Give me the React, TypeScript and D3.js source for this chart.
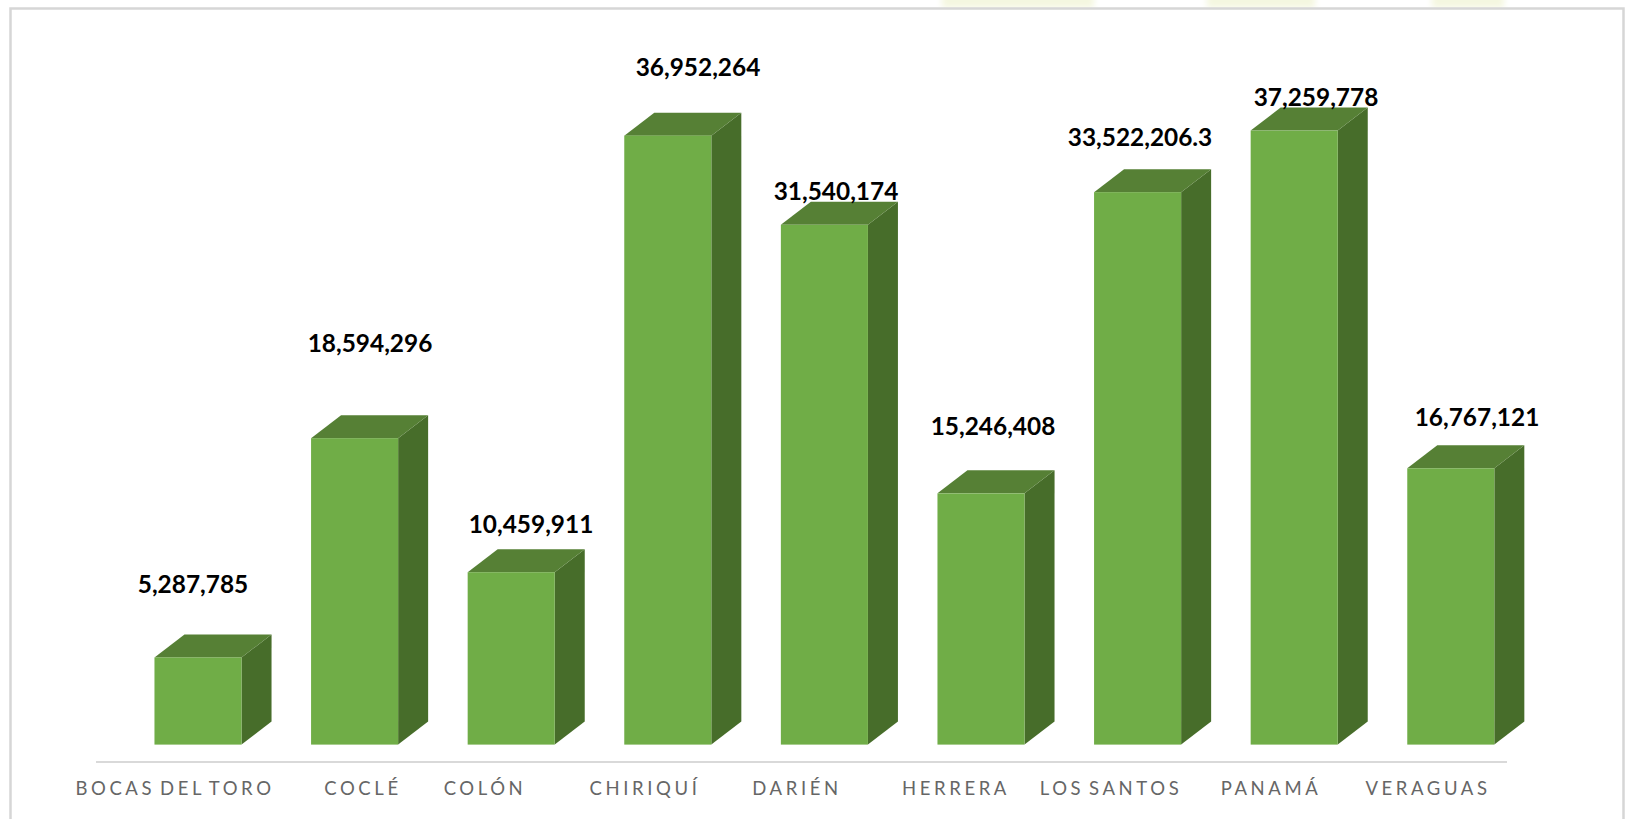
import React from "react";
import * as d3 from "d3";

const categories = ["BOCAS DEL TORO", "COCLÉ", "COLÓN", "CHIRIQUÍ", "DARIÉN", "HERRERA", "LOS SANTOS", "PANAMÁ", "VERAGUAS"];
const values = [5287785, 18594296, 10459911, 36952264, 31540174, 15246408, 33522206.3, 37259778, 16767121];
const valueLabels = ["5,287,785", "18,594,296", "10,459,911", "36,952,264", "31,540,174", "15,246,408", "33,522,206.3", "37,259,778", "16,767,121"];

// Hand-placed label anchors of the original chart (layout, not data)
const valueLabelX = [193, 370, 531, 698, 836, 993, 1140, 1316, 1477];
const valueLabelY = [585, 344, 525, 68, 192, 427, 138, 98, 418];
const categoryLabelX = [175, 363, 485, 645, 797, 956, 1111, 1271, 1428];

const W = 1626, H = 819;
const x = d3.scaleBand<string>().domain(categories).range([119.7, 1529.1]).paddingInner(0.444).paddingOuter(0.222);
const y = d3.scaleLinear().domain([0, 40000000]).range([744.6, 85.4]);
const dx = 30, dy = 23;

const poly = d3.line<[number, number]>().curve(d3.curveLinearClosed);

export default function App() {
  const bw = x.bandwidth();
  return (
    <svg width={W} height={H} style={{ position: "fixed", left: 0, top: 0, background: "#fff" }}>
      <defs>
        <filter id="blur"><feGaussianBlur stdDeviation="3" /></filter>
      </defs>
      <g fill="#f4f7e0" filter="url(#blur)">
        <rect x={942} y={-8} width={152} height={16} />
        <rect x={1207} y={-8} width={108} height={16} />
        <rect x={1432} y={-8} width={72} height={16} />
      </g>
      <path d={`M10.5 ${H} V8.5 H1623.5 V${H}`} fill="none" stroke="#d6d6d6" strokeWidth={2.5} />
      <line x1={96} x2={1507} y1={762} y2={762} stroke="#d9d9d9" strokeWidth={2} />
      {categories.map((c, i) => {
        const x0 = x(c)!, x1 = x0 + bw, yt = y(values[i]), yb = y(0);
        return (
          <g key={c}>
            <path d={poly([[x1, yt], [x1 + dx, yt - dy], [x1 + dx, yb - dy], [x1, yb]])!} fill="#476d2a" />
            <path d={poly([[x0, yt], [x0 + dx, yt - dy], [x1 + dx, yt - dy], [x1, yt]])!} fill="#568035" />
            <rect x={x0} y={yt} width={bw} height={yb - yt} fill="#70ad47" />
          </g>
        );
      })}
      {categories.map((c, i) => (
        <text key={c} x={categoryLabelX[i]} y={795} textAnchor="middle" fontFamily="Lato" fontSize={18.5} letterSpacing={3.6} wordSpacing={-3.5} fill="#666">{c}</text>
      ))}
      {valueLabels.map((t, i) => (
        <text key={t} x={valueLabelX[i]} y={valueLabelY[i] + 8} textAnchor="middle" fontFamily="Lato" fontWeight={700} fontSize={24.4} fill="#000">{t}</text>
      ))}
    </svg>
  );
}
